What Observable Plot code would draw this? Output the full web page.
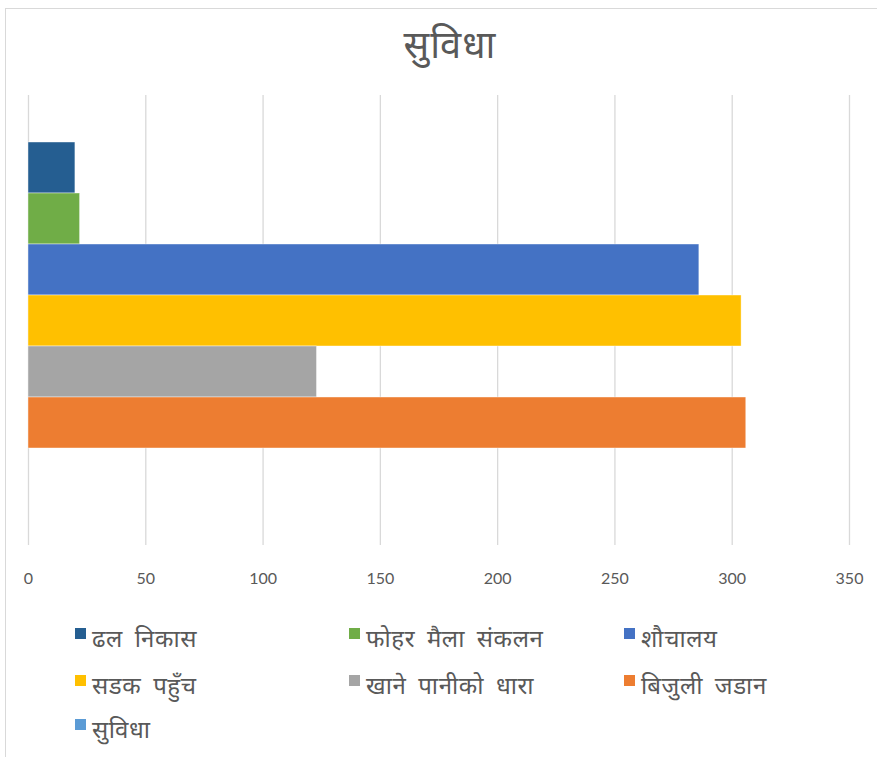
<!DOCTYPE html>
<html>
<head>
<meta charset="utf-8">
<script src="https://cdn.jsdelivr.net/npm/d3@7"></script>
<script src="https://cdn.jsdelivr.net/npm/@observablehq/plot@0.6"></script>
<style>
  html, body { margin: 0; padding: 0; background: #fff; }
  #wrap { position: relative; width: 877px; height: 757px; overflow: hidden; font-family: "Noto Sans", "Lato", sans-serif; }
  #frame { position: absolute; left: 5px; top: 8px; width: 900px; height: 800px; border: 1.5px solid #d9d9d9; box-sizing: border-box; }
  #title { position: absolute; left: 0; width: 900px; top: 17px; text-align: center; font-size: 38px; letter-spacing: 1px; color: #595959; }
  #chart { position: absolute; left: 0; top: 80px; }
  .lg { position: absolute; display: flex; align-items: center; font-size: 24px; letter-spacing: 0.6px; word-spacing: 5px; color: #595959; white-space: nowrap; }
  .lg span.k { display: inline-block; width: 11px; height: 11px; margin-right: 6px; margin-top: -9px; }
</style>
</head>
<body>
<div id="wrap">
  <div id="frame"></div>
  <div id="title">सुविधा</div>
  <div id="chart"></div>
  <div id="legend"></div>
</div>
<script>
const series = ["ढल निकास", "फोहर मैला संकलन", "शौचालय", "सडक पहुँच", "खाने पानीको धारा", "बिजुली जडान", "सुविधा"];
const values = [20, 22, 286, 304, 123, 306, null];
const colors = ["#255E91", "#70AD47", "#4472C4", "#FFC000", "#A5A5A5", "#ED7D31", "#5B9BD5"];
const xTicks = [0, 50, 100, 150, 200, 250, 300, 350];

const data = series.map((name, i) => ({name, value: values[i]})).filter(d => d.value != null);

const chart = Plot.plot({
  width: 877,
  height: 520,
  marginTop: 15,
  marginBottom: 55,
  marginLeft: 28,
  marginRight: 28,
  style: {fontFamily: "Lato, 'Noto Sans', sans-serif", fontSize: "15px", color: "#595959", background: "transparent"},
  x: {domain: [0, 350], label: null},
  y: {domain: series, paddingInner: 0, paddingOuter: 0.86, axis: null},
  color: {domain: series, range: colors},
  marks: [
    Plot.gridX(xTicks, {stroke: "#d9d9d9", strokeOpacity: 1, strokeWidth: 1.3}),
    Plot.barX(data, {x: "value", y: "name", fill: "name", stroke: "#ffffff", strokeWidth: 0.6, strokeOpacity: 0.7, inset: 0}),
    Plot.axisX(xTicks, {tickSize: 0, tickPadding: 27, fill: "#595959", fontSize: 16, label: null, tickFormat: d => String(d)})
  ]
});
document.getElementById("chart").appendChild(chart);

const legendPos = [[75, 621], [349, 621], [624, 621], [75, 668], [349, 668], [624, 668], [75, 712]];
const lg = document.getElementById("legend");
series.forEach((name, i) => {
  const el = document.createElement("div");
  el.className = "lg";
  el.style.left = legendPos[i][0] + "px";
  el.style.top = legendPos[i][1] + "px";
  const k = document.createElement("span");
  k.className = "k";
  k.style.background = colors[i];
  const t = document.createElement("span");
  t.textContent = name;
  el.appendChild(k);
  el.appendChild(t);
  lg.appendChild(el);
});
</script>
</body>
</html>
